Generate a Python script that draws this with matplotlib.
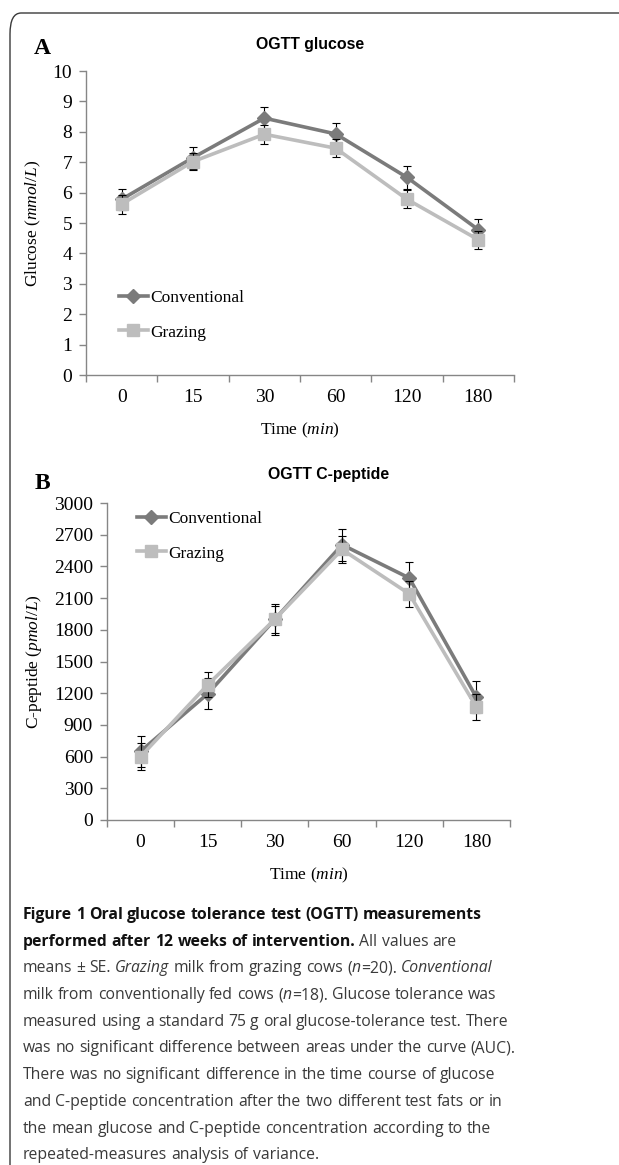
import numpy as np
import matplotlib.pyplot as plt
from matplotlib.patches import FancyBboxPatch

W, H = 619, 1165

times = ['0', '15', '30', '60', '120', '180']

glu_conv = [5.78, 7.15, 8.45, 7.93, 6.50, 4.78]
glu_conv_se = [0.35, 0.36, 0.35, 0.36, 0.38, 0.34]
glu_graz = [5.62, 7.02, 7.92, 7.46, 5.78, 4.45]
glu_graz_se = [0.31, 0.27, 0.32, 0.30, 0.30, 0.30]

cp_conv = [650, 1195, 1900, 2605, 2290, 1160]
cp_conv_se = [145, 145, 148, 150, 152, 151]
cp_graz = [600, 1280, 1900, 2560, 2140, 1068]
cp_graz_se = [126, 118, 128, 130, 120, 126]

caption = [
    "**Figure 1 Oral glucose tolerance test (OGTT) measurements**",
    "**performed after 12 weeks of intervention.** All values are",
    "means ± SE. _Grazing_ milk from grazing cows (_n_=20). _Conventional_",
    "milk from conventionally fed cows (_n_=18). Glucose tolerance was",
    "measured using a standard 75 g oral glucose-tolerance test. There",
    "was no significant difference between areas under the curve (AUC).",
    "There was no significant difference in the time course of glucose",
    "and C-peptide concentration after the two different test fats or in",
    "the mean glucose and C-peptide concentration according to the",
    "repeated-measures analysis of variance.",
]

C_CONV = '#7b7b7b'
C_GRAZ = '#bdbdbd'
SERIF = 'Liberation Serif'
SANS = 'Liberation Sans'
CAP_FONT = 'Open Sans'

fig = plt.figure(figsize=(W / 100, H / 100), dpi=100)

# rounded frame, cut by the right and bottom edges
frame = FancyBboxPatch((10 / W, 1 - 1190 / H), 640 / W, 1177 / H,
                       boxstyle='round,pad=0,rounding_size=0.018',
                       transform=fig.transFigure, fill=False,
                       edgecolor='#3a3a3a', lw=1.0)
fig.patches.append(frame)


def px(x, y):
    return x / W, 1 - y / H


def panel(rect, conv, conv_se, graz, graz_se, ymax, ystep, ylabel, leg_xy):
    l, t, r, b = rect
    ax = fig.add_axes([l / W, 1 - b / H, (r - l) / W, (b - t) / H])
    x = np.arange(len(times))
    ax.errorbar(x, conv, yerr=conv_se, fmt='none', ecolor='black',
                elinewidth=0.8, capsize=3, capthick=0.8, zorder=2)
    h1, = ax.plot(x, conv, color=C_CONV, lw=2.6, marker='D', ms=7.5,
                  label='Conventional', zorder=3)
    ax.errorbar(x, graz, yerr=graz_se, fmt='none', ecolor='black',
                elinewidth=0.8, capsize=3, capthick=0.8, zorder=4)
    h2, = ax.plot(x, graz, color=C_GRAZ, lw=2.6, marker='s', ms=8.5,
                  label='Grazing', zorder=5)

    ax.set_xlim(-0.5, len(times) - 0.5)
    ax.set_ylim(0, ymax)
    ax.set_yticks(np.arange(0, ymax + ystep / 2, ystep))
    ax.set_xticks(x)
    ax.set_xticklabels(times)
    ax.set_xticks(np.arange(-0.5, len(times)), minor=True)
    ax.tick_params(axis='x', which='major', length=0, pad=10)
    ax.tick_params(axis='x', which='minor', length=5, color='#868686', width=1)
    ax.tick_params(axis='y', length=5, color='#868686', width=1, pad=5)
    for lab in ax.get_xticklabels() + ax.get_yticklabels():
        lab.set_fontfamily(SERIF)
        lab.set_fontsize(14)
    for s in ['top', 'right']:
        ax.spines[s].set_visible(False)
    for s in ['left', 'bottom']:
        ax.spines[s].set_color('#868686')
        ax.spines[s].set_linewidth(1)
    ax.set_ylabel(ylabel, fontfamily=SERIF, fontsize=12.5, labelpad=7)
    ax.set_xlabel('Time ($\\it{min}$)', fontfamily=SERIF, fontsize=12.5, labelpad=11)
    ax.legend(handles=[h1, h2], loc='upper left', bbox_to_anchor=px(*leg_xy),
              bbox_transform=fig.transFigure, frameon=False, borderpad=0,
              borderaxespad=0, handlelength=1.67, handletextpad=0.12,
              labelspacing=1.05, prop={'family': SERIF, 'size': 12.5})
    return ax


plt.rcParams['mathtext.fontset'] = 'custom'
plt.rcParams['mathtext.it'] = 'Liberation Serif:italic'
plt.rcParams['mathtext.rm'] = 'Liberation Serif'

panel((86, 71, 514, 375), glu_conv, glu_conv_se, glu_graz, glu_graz_se,
      10, 1, 'Glucose ($\\it{mmol/L}$)', (119, 290))
panel((107, 503, 510, 820), cp_conv, cp_conv_se, cp_graz, cp_graz_se,
      3000, 300, 'C-peptide ($\\it{pmol/L}$)', (137, 511))

fig.text(*px(42, 48), 'A', fontfamily=SERIF, fontweight='bold', fontsize=17,
         ha='center', va='center')
fig.text(*px(42, 483), 'B', fontfamily=SERIF, fontweight='bold', fontsize=17,
         ha='center', va='center')
fig.text(*px(310, 45), 'OGTT glucose', fontfamily=SANS, fontweight='bold',
         fontsize=11.4, ha='center', va='center')
fig.text(*px(329, 475), 'OGTT C-peptide', fontfamily=SANS, fontweight='bold',
         fontsize=11.4, ha='center', va='center')


# caption: words placed one by one so bold/italic runs can mix
def parse(line):
    words, word, run, bold, ital = [], [], '', False, False
    i = 0
    while i < len(line):
        if line.startswith('**', i):
            if run:
                word.append((run, bold, ital))
                run = ''
            bold = not bold
            i += 2
            continue
        c = line[i]
        if c == '_':
            if run:
                word.append((run, bold, ital))
                run = ''
            ital = not ital
        elif c == ' ':
            if run:
                word.append((run, bold, ital))
                run = ''
            words.append(word)
            word = []
        else:
            run += c
        i += 1
    if run:
        word.append((run, bold, ital))
    if word:
        words.append(word)
    return words


renderer = fig.canvas.get_renderer()
cap_size = 11.3


def style(bold, ital):
    return dict(fontfamily=CAP_FONT, fontsize=cap_size,
                fontweight='bold' if bold else 'normal',
                fontstyle='italic' if ital else 'normal',
                color='#111111' if bold else '#3a3a3a')


def width(s, bold, ital):
    t = fig.text(0, 0, s, **style(bold, ital))
    w = t.get_window_extent(renderer).width
    t.remove()
    return w


y0, dy, x0 = 919, 26.7, 23
for k, line in enumerate(caption):
    y = y0 + k * dy
    x = x0
    for word in parse(line):
        for s, b, it in word:
            t = fig.text(*px(x, y), s, va='baseline', **style(b, it))
            x += t.get_window_extent(renderer).width
        b, it = word[-1][1], word[-1][2]
        x += width('a a', b, it) - width('aa', b, it)

fig.savefig('out.png', dpi=100)
